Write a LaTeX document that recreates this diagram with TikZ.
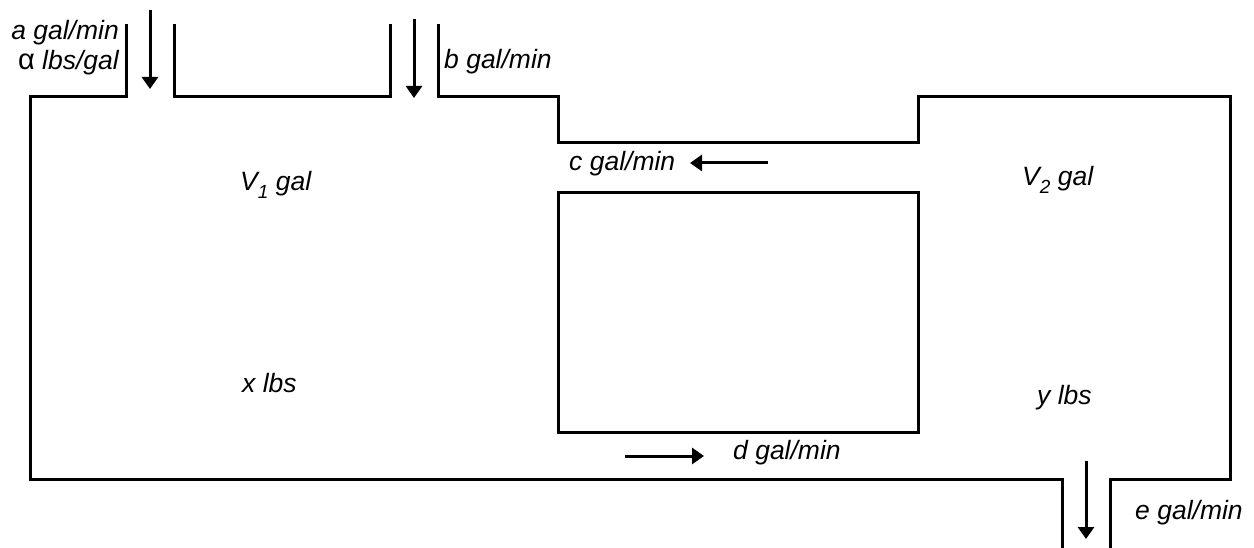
\documentclass[tikz,border=0pt]{standalone}
\usepackage{fontspec}
\setmainfont{Liberation Sans}
\usetikzlibrary{arrows.meta}
\tikzset{
  wall/.style={line width=3pt, line join=miter},
  flow/.style={line width=3pt, -{Triangle[length=12pt,width=16pt]}},
  lbl/.style={font=\fontsize{26.5}{30}\selectfont\itshape, inner sep=0pt},
}
\newcommand{\subn}[1]{\raisebox{-8pt}{\fontsize{19}{19}\selectfont #1}}
\begin{document}
\begin{tikzpicture}[x=1pt,y=-1pt]
\useasboundingbox (0,0) rectangle (1254,548);
% outline of the two tanks
\draw[wall] (126,24) -- (126,97) -- (30,97) -- (30,479) -- (1062,479) -- (1062,548);
\draw[wall] (174,24) -- (174,97) -- (390,97) -- (390,24);
\draw[wall] (438,24) -- (438,97) -- (558,97) -- (558,143) -- (918,143) -- (918,97) -- (1230,97) -- (1230,479) -- (1110,479) -- (1110,548);
% inner block
\coordinate (bnw) at (558,193); \coordinate (bse) at (918,432);
\draw[wall] (bnw) rectangle (bse);
% flow coordinates
\coordinate (a1) at (150,10); \coordinate (a2) at (150,89);
\coordinate (b1) at (414,19); \coordinate (b2) at (414,98);
\coordinate (c1) at (768,163); \coordinate (c2) at (690,163);
\coordinate (d1) at (625,456); \coordinate (d2) at (704,456);
\coordinate (e1) at (1086,461); \coordinate (e2) at (1086,539);
\draw[flow] (a1) -- (a2);
\draw[flow] (b1) -- (b2);
\draw[flow] (c1) -- (c2);
\draw[flow] (d1) -- (d2);
\draw[flow] (e1) -- (e2);
% labels
\node[lbl, anchor=east] (la) at (119,33) {a gal/min};
\node[lbl, anchor=east] (lal) at (119,63) {\upshape\fontsize{29}{30}\selectfont α\itshape\fontsize{26.5}{30}\selectfont\ lbs/gal};
\node[lbl, anchor=west] (lb) at (444,62) {b gal/min};
\node[lbl, anchor=west] (lc) at (569,164) {c gal/min};
\node[lbl, anchor=west] (lv1) at (240,185) {V\subn{1} gal};
\node[lbl, anchor=west] (lv2) at (1022,180) {V\subn{2} gal};
\node[lbl, anchor=west] (lx) at (242,383) {x lbs};
\node[lbl, anchor=west] (ly) at (1037,398) {y lbs};
\node[lbl, anchor=west] (ld) at (733,453) {d gal/min};
\node[lbl, anchor=west] (le) at (1135,513) {e gal/min};
\end{tikzpicture}
\end{document}
